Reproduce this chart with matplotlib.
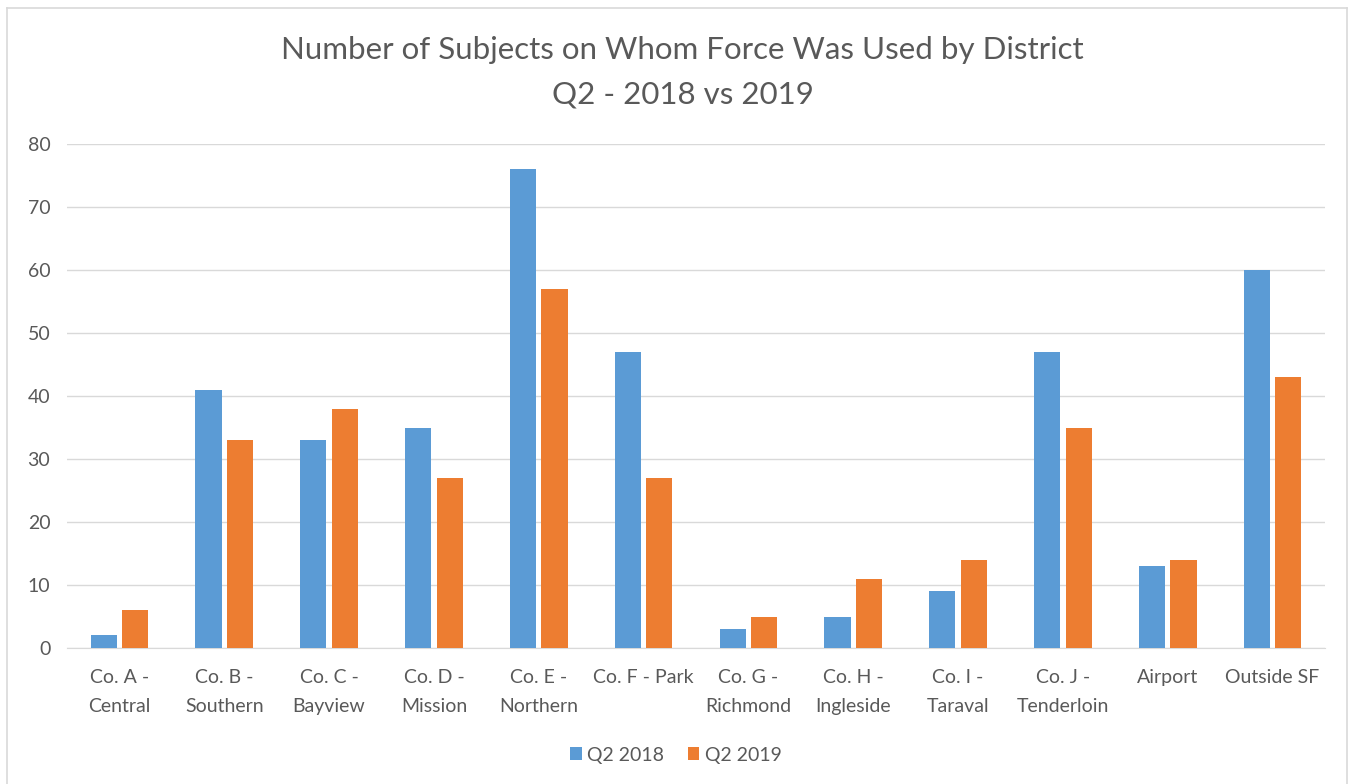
import numpy as np
import matplotlib.pyplot as plt
from matplotlib.lines import Line2D

districts = ['Co. A -\nCentral', 'Co. B -\nSouthern', 'Co. C -\nBayview', 'Co. D -\nMission',
             'Co. E -\nNorthern', 'Co. F - Park', 'Co. G -\nRichmond', 'Co. H -\nIngleside',
             'Co. I -\nTaraval', 'Co. J -\nTenderloin', 'Airport', 'Outside SF']
q2_2018 = [2, 41, 33, 35, 76, 47, 3, 5, 9, 47, 13, 60]
q2_2019 = [6, 33, 38, 27, 57, 27, 5, 11, 14, 35, 14, 43]
yticks = [0, 10, 20, 30, 40, 50, 60, 70, 80]

plt.rcParams['font.family'] = ['Lato', 'DejaVu Sans']

W, H = 1352, 784
fig = plt.figure(figsize=(W / 100, H / 100), dpi=100)
ax = fig.add_axes([67 / W, 1 - 648 / H, (1325 - 67) / W, (648 - 144) / H])

x = np.arange(len(districts))
bw = 0.25
ax.bar(x - 0.15, q2_2018, width=bw, color='#5B9BD5', label='Q2 2018', zorder=3)
ax.bar(x + 0.15, q2_2019, width=bw, color='#ED7D31', label='Q2 2019', zorder=3)

ax.set_xlim(-0.5, len(districts) - 0.5)
ax.set_ylim(0, 80)
ax.set_yticks(yticks)
ax.yaxis.grid(True, color='#D9D9D9', linewidth=1, zorder=0)
for s in ['top', 'right', 'left']:
    ax.spines[s].set_visible(False)
ax.spines['bottom'].set_color('#D9D9D9')
ax.tick_params(axis='both', length=0, labelsize=14, colors='#595959')
ax.tick_params(axis='y', pad=12)
ax.tick_params(axis='x', pad=15)
ax.set_xticks(x)
ax.set_xticklabels(districts, linespacing=1.85)

fig.text(0.505, 1 - 50 / H, 'Number of Subjects on Whom Force Was Used by District',
         ha='center', va='center', fontsize=22.5, color='#595959')
fig.text(0.505, 1 - 95 / H, 'Q2 - 2018 vs 2019',
         ha='center', va='center', fontsize=22.5, color='#595959')

fig.legend(loc='center', bbox_to_anchor=(0.5, 1 - 755 / H), ncol=2, frameon=False,
           fontsize=14, labelcolor='#595959', handlelength=0.6, handleheight=0.6,
           handletextpad=0.3, columnspacing=1.2)

# chart border
for xs, ys in [([7, 7], [H, 8]), ([7, 1347], [8, 8]), ([1347, 1347], [8, H])]:
    fig.add_artist(Line2D([v / W for v in xs], [1 - v / H for v in ys],
                          color='#D9D9D9', linewidth=1.2))

fig.savefig('out.png', dpi=100, facecolor='white')
